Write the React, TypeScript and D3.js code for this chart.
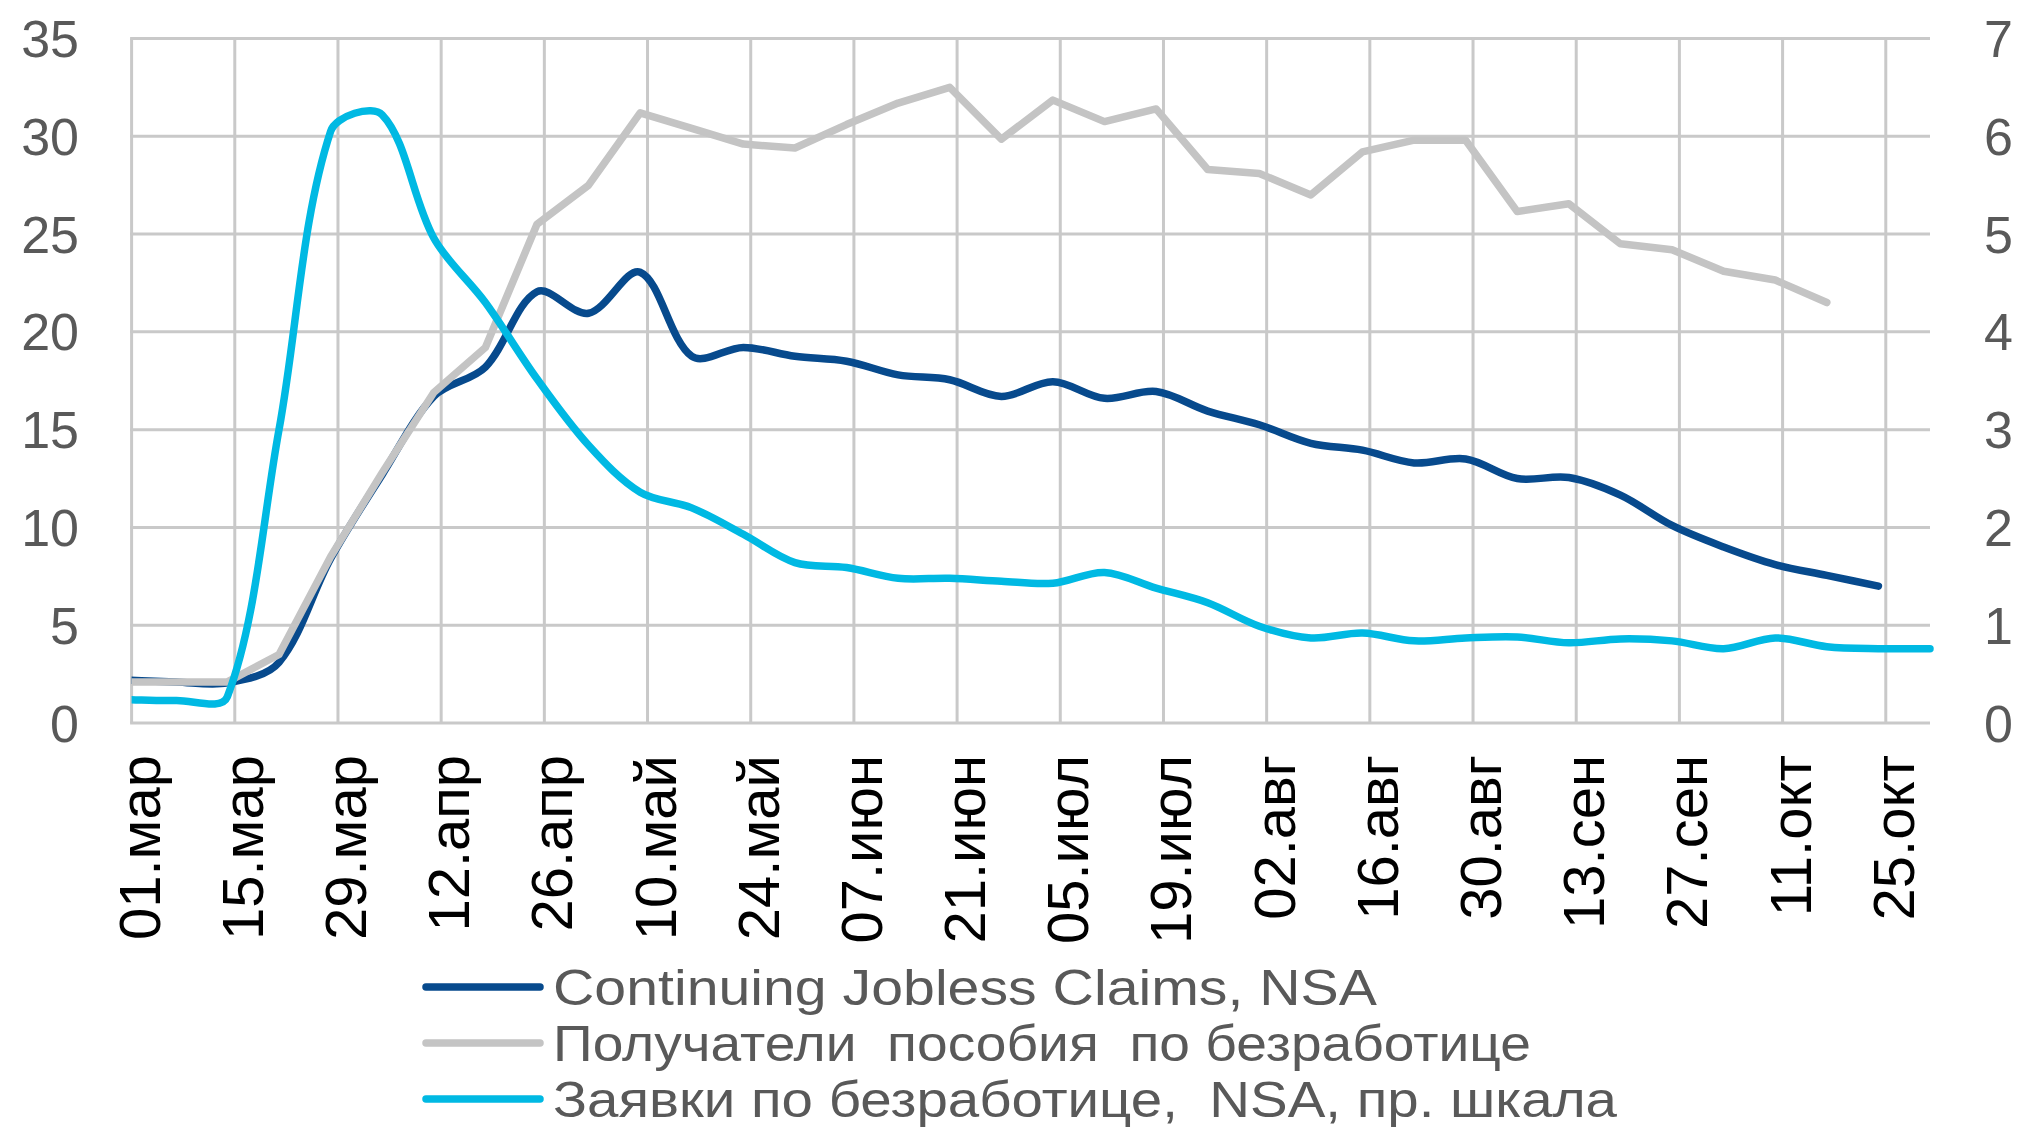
import React from 'react';
import * as d3 from 'd3';

// Weekly observation dates (week ending Saturday), 2020
const weekDates: string[] = [
  '2020-02-29', '2020-03-07', '2020-03-14', '2020-03-21', '2020-03-28',
  '2020-04-04', '2020-04-11', '2020-04-18', '2020-04-25', '2020-05-02',
  '2020-05-09', '2020-05-16', '2020-05-23', '2020-05-30', '2020-06-06',
  '2020-06-13', '2020-06-20', '2020-06-27', '2020-07-04', '2020-07-11',
  '2020-07-18', '2020-07-25', '2020-08-01', '2020-08-08', '2020-08-15',
  '2020-08-22', '2020-08-29', '2020-09-05', '2020-09-12', '2020-09-19',
  '2020-09-26', '2020-10-03', '2020-10-10', '2020-10-17', '2020-10-24',
  '2020-10-31',
];

// Continuing Jobless Claims, NSA (mln, left axis)
const continuingClaims: (number | null)[] = [
  2.2, 2.1, 2.05, 3.1, 8.4,
  12.7, 16.7, 18.2, 22.05, 20.95,
  23.05, 18.75, 19.2, 18.75, 18.5,
  17.8, 17.55, 16.7, 17.45, 16.6,
  16.95, 15.95, 15.25, 14.3, 13.95,
  13.3, 13.5, 12.5, 12.55, 11.65,
  10.1, 9.0, 8.1, 7.55, 7.0,
  null,
];

// Получатели пособия по безработице (mln, left axis)
const benefitRecipients: (number | null)[] = [
  2.1, 2.1, 2.1, 3.5, 8.5,
  12.8, 16.9, 19.2, 25.5, 27.5,
  31.2, 30.4, 29.6, 29.4, 30.6,
  31.7, 32.5, 29.85, 31.85, 30.75,
  31.4, 28.3, 28.1, 27.0, 29.2,
  29.8, 29.8, 26.15, 26.55, 24.5,
  24.2, 23.1, 22.65, 21.5, null,
  null,
];

// Заявки по безработице, NSA (mln, right axis)
const initialClaims: (number | null)[] = [
  0.24, 0.23, 0.27, 3.0, 6.05,
  6.22, 4.96, 4.3, 3.52, 2.84,
  2.36, 2.2, 1.93, 1.64, 1.59,
  1.48, 1.48, 1.45, 1.43, 1.54,
  1.38, 1.23, 0.99, 0.87, 0.92,
  0.84, 0.87, 0.88, 0.82, 0.86,
  0.84, 0.76, 0.87, 0.78, 0.76,
  0.76,
];

const xTickDates: string[] = [
  '2020-03-01', '2020-03-15', '2020-03-29', '2020-04-12', '2020-04-26',
  '2020-05-10', '2020-05-24', '2020-06-07', '2020-06-21', '2020-07-05',
  '2020-07-19', '2020-08-02', '2020-08-16', '2020-08-30', '2020-09-13',
  '2020-09-27', '2020-10-11', '2020-10-25',
];
const xTickLabels: string[] = [
  '01.мар', '15.мар', '29.мар', '12.апр', '26.апр',
  '10.май', '24.май', '07.июн', '21.июн', '05.июл',
  '19.июл', '02.авг', '16.авг', '30.авг', '13.сен',
  '27.сен', '11.окт', '25.окт',
];
const leftTicks: number[] = [0, 5, 10, 15, 20, 25, 30, 35];
const rightTicks: number[] = [0, 1, 2, 3, 4, 5, 6, 7];

const seriesNames: string[] = [
  'Continuing Jobless Claims, NSA',
  'Получатели  пособия  по безработице',
  'Заявки по безработице,  NSA, пр. шкала',
];
const seriesColors: string[] = ['#074A8D', '#C4C4C4', '#00B9E3'];

const axisStart = '2020-03-01';
const axisEnd = '2020-10-31';

const W = 2023;
const H = 1137;
const M = { left: 131.6, right: 1930, top: 38.5, bottom: 723 };
const FONT = '"Liberation Sans", Arial, sans-serif';
const SMOOTH_T = 1 / 3;
const LEGEND_TEXT_WIDTHS = [824, 978, 1064];

const parse = (s: string) => new Date(s + 'T00:00:00Z');

// Excel-like smoothed line: Bezier segments, control arms along (next - prev),
// split in proportion to the adjacent segment lengths.
function smoothPath(pts: [number, number][]): string {
  const p = d3.path();
  if (!pts.length) return '';
  p.moveTo(pts[0][0], pts[0][1]);
  const n = pts.length;
  const ctrl = pts.map((pt, i) => {
    const a = pts[Math.max(0, i - 1)];
    const b = pts[Math.min(n - 1, i + 1)];
    const d01 = Math.hypot(pt[0] - a[0], pt[1] - a[1]);
    const d12 = Math.hypot(b[0] - pt[0], b[1] - pt[1]);
    const sum = d01 + d12 || 1;
    const fa = SMOOTH_T * (d01 / sum);
    const fb = SMOOTH_T * (d12 / sum);
    const dx = b[0] - a[0];
    const dy = b[1] - a[1];
    return {
      prev: [pt[0] - fa * dx, pt[1] - fa * dy] as [number, number],
      next: [pt[0] + fb * dx, pt[1] + fb * dy] as [number, number],
    };
  });
  for (let i = 0; i < n - 1; i++) {
    const c1 = ctrl[i].next;
    const c2 = ctrl[i + 1].prev;
    p.bezierCurveTo(c1[0], c1[1], c2[0], c2[1], pts[i + 1][0], pts[i + 1][1]);
  }
  return p.toString();
}

export default function App() {
  const x = d3.scaleUtc().domain([parse(axisStart), parse(axisEnd)]).range([M.left, M.right]);
  const yL = d3.scaleLinear().domain([0, 35]).range([M.bottom, M.top]);
  const yR = d3.scaleLinear().domain([0, 7]).range([M.bottom, M.top]);

  const toPts = (vals: (number | null)[], y: d3.ScaleLinear<number, number>): [number, number][] =>
    weekDates
      .map((s, i) => ({ d: parse(s), v: vals[i] }))
      .filter((q) => q.v != null)
      .map((q) => [x(q.d), y(q.v as number)] as [number, number]);

  const straight = d3.line<[number, number]>();

  const paths = [
    smoothPath(toPts(continuingClaims, yL)),
    straight(toPts(benefitRecipients, yL)) || '',
    smoothPath(toPts(initialClaims, yR)),
  ];

  const legendY = [987, 1043, 1099];

  return (
    <svg width={W} height={H} style={{ position: 'absolute', left: 0, top: 0, display: 'block', background: '#fff' }} fontFamily={FONT}>
      <defs>
        <clipPath id="plotClip">
          <rect x={M.left} y={0} width={M.right - M.left + 4} height={H} />
        </clipPath>
      </defs>
      <rect x={0} y={0} width={W} height={H} fill="#fff" />
      {/* gridlines */}
      {leftTicks.map((t) => (
        <line key={'h' + t} x1={M.left - 1.5} x2={M.right} y1={yL(t)} y2={yL(t)} stroke="#C9C9C9" strokeWidth={3} />
      ))}
      {xTickDates.map((s) => (
        <line key={'v' + s} x1={x(parse(s))} x2={x(parse(s))} y1={M.top} y2={M.bottom} stroke="#C9C9C9" strokeWidth={3} />
      ))}
      {/* left axis labels */}
      {leftTicks.map((t) => (
        <text key={'l' + t} x={79} y={yL(t) + 18.5} textAnchor="end" fontSize={52} fill="#595959">{t}</text>
      ))}
      {/* right axis labels */}
      {rightTicks.map((t) => (
        <text key={'r' + t} x={1984} y={yR(t) + 18.5} textAnchor="start" fontSize={52} fill="#595959">{t}</text>
      ))}
      {/* x axis labels */}
      {xTickDates.map((s, i) => (
        <text key={'x' + s} transform={`translate(${x(parse(s)) + 28},755) rotate(-90)`} textAnchor="end" fontSize={58} fill="#000">{xTickLabels[i]}</text>
      ))}
      {/* series */}
      <g clipPath="url(#plotClip)">
        {paths.map((p, i) => (
          <path key={'s' + i} d={p} fill="none" stroke={seriesColors[i]} strokeWidth={7.5} strokeLinecap="round" strokeLinejoin="round" />
        ))}
      </g>
      {/* legend */}
      {seriesNames.map((n, i) => (
        <g key={'lg' + i}>
          <line x1={426} x2={540} y1={legendY[i]} y2={legendY[i]} stroke={seriesColors[i]} strokeWidth={7.5} strokeLinecap="round" />
          <text x={553} y={legendY[i] + 18} fontSize={50} fill="#595959" textLength={LEGEND_TEXT_WIDTHS[i]} lengthAdjust="spacingAndGlyphs" style={{ whiteSpace: 'pre' }}>{n}</text>
        </g>
      ))}
    </svg>
  );
}
